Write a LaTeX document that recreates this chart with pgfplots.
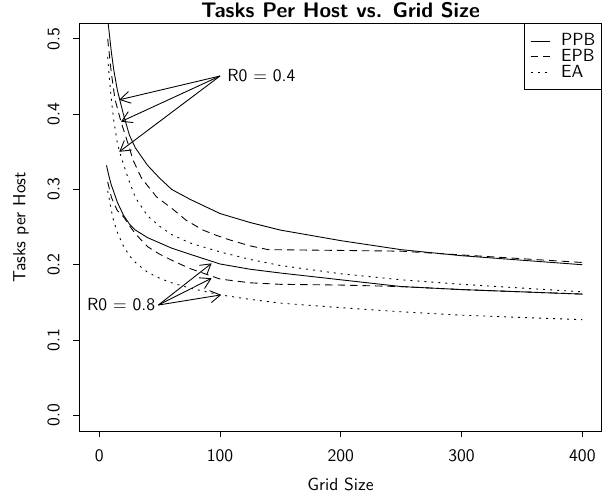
\documentclass[border=0pt]{standalone}
\usepackage{pgfplots}
\pgfplotsset{compat=1.18}
\usetikzlibrary{arrows.meta,calc}
\renewcommand{\familydefault}{\sfdefault}
\begin{document}
\begin{tikzpicture}
\begin{axis}[
  name=ax,
  scale only axis,
  width=10.448cm, height=8.154cm,
  xmin=-16.5, xmax=416,
  ymin=-0.0208, ymax=0.5206,
  xtick={0,100,200,300,400},
  ytick={0,0.1,0.2,0.3,0.4,0.5},
  /pgf/number format/assume math mode=true,
  y tick label style={/pgf/number format/fixed,/pgf/number format/fixed zerofill,/pgf/number format/precision=1},
  yticklabel style={rotate=90, anchor=south, inner sep=0pt},
  xticklabel style={anchor=north, inner sep=0pt},
  xticklabel shift=0.24cm,
  yticklabel shift=0.266cm,
  tick align=outside, tick pos=left,
  major tick length=0.12cm,
  tick style={black, line width=0.5pt},
  axis line style={black, line width=0.5pt},
  xlabel={Grid Size},
  xlabel style={at={(axis description cs:0.5,-0.130)}, anchor=center},
  ylabel={Tasks per Host},
  every axis y label/.style={at={(axis description cs:-0.1116,0.5)}, rotate=90, anchor=center},
  legend style={at={(rel axis cs:1,1)}, anchor=north east, draw=black, line width=0.5pt,
    inner xsep=0.12cm, inner ysep=0.2cm, row sep=0.4pt, column sep=0.22cm,
    nodes={inner sep=0pt}},
  legend cell align=left,
  legend image code/.code={\draw[#1] (0cm,0cm) -- (0.38cm,0cm);},
  every axis plot/.append style={black, line width=0.5pt},
]
% R0 = 0.4
\addplot[solid] coordinates {
  (6,0.541) (8,0.512) (10,0.483) (12,0.459) (15,0.432) (17,0.419) (20,0.400)
  (25,0.372) (30,0.355) (40,0.332) (50,0.315) (60,0.300) (75,0.287) (100,0.268)
  (125,0.256) (150,0.246) (200,0.232) (250,0.220) (300,0.212) (350,0.206) (400,0.200)
};
\addlegendentry{PPB}
\addplot[dash pattern=on 0.15cm off 0.1cm] coordinates {
  (7,0.500) (10,0.455) (13,0.420) (18,0.390) (25,0.355) (28,0.339) (35,0.315)
  (47.5,0.290) (60,0.275) (72,0.259) (86,0.246) (97,0.239) (108,0.233) (125,0.225)
  (140,0.220) (200,0.219) (250,0.218) (300,0.213) (350,0.208) (400,0.203)
};
\addlegendentry{EPB}
\addplot[dash pattern=on 0.04cm off 0.1cm] coordinates {
  (7,0.476) (8,0.455) (10,0.420) (12,0.392) (15,0.362) (17,0.349) (20,0.334)
  (25,0.310) (30,0.289) (40,0.265) (50,0.251) (60,0.240) (75,0.229) (100,0.217)
  (125,0.207) (150,0.199) (200,0.188) (250,0.180) (300,0.174) (350,0.169) (400,0.164)
};
\addlegendentry{EA}
% R0 = 0.8
\addplot[forget plot, solid] coordinates {
  (6,0.332) (8,0.318) (10,0.306) (12,0.297) (15,0.283) (20,0.266) (25,0.254)
  (30,0.246) (40,0.236) (50,0.229) (60,0.222) (75,0.214) (100,0.201) (125,0.194)
  (150,0.189) (200,0.180) (250,0.171) (300,0.167) (350,0.164) (400,0.161)
};
\addplot[forget plot, dash pattern=on 0.15cm off 0.1cm] coordinates {
  (7,0.310) (10,0.290) (12,0.282) (15,0.272) (20,0.264) (25,0.252) (30,0.241)
  (40,0.224) (50,0.214) (60,0.206) (75,0.195) (100,0.181) (125,0.176) (150,0.174)
  (200,0.173) (250,0.171) (300,0.167) (350,0.164) (400,0.161)
};
\addplot[forget plot, dash pattern=on 0.04cm off 0.1cm] coordinates {
  (7,0.298) (8,0.290) (10,0.272) (12,0.258) (15,0.243) (20,0.225) (25,0.212)
  (30,0.203) (40,0.190) (50,0.182) (60,0.176) (75,0.169) (100,0.160) (125,0.154)
  (150,0.149) (200,0.143) (250,0.1375) (300,0.133) (350,0.130) (400,0.127)
};
% annotations
\draw[-{Straight Barb[length=0.2cm,width=0.24cm]}, line width=0.5pt] (axis cs:100,0.4506) -- (axis cs:16.6,0.419);
\draw[-{Straight Barb[length=0.2cm,width=0.24cm]}, line width=0.5pt] (axis cs:100,0.4506) -- (axis cs:18,0.390);
\draw[-{Straight Barb[length=0.2cm,width=0.24cm]}, line width=0.5pt] (axis cs:100,0.4506) -- (axis cs:16.6,0.350);
\node[anchor=west, inner sep=0.14cm] at (axis cs:100,0.4506) {R0 = 0.4};
\draw[-{Straight Barb[length=0.2cm,width=0.24cm]}, line width=0.5pt] (axis cs:49,0.1465) -- (axis cs:93,0.2018);
\draw[-{Straight Barb[length=0.2cm,width=0.24cm]}, line width=0.5pt] (axis cs:49,0.1465) -- (axis cs:93,0.182);
\draw[-{Straight Barb[length=0.2cm,width=0.24cm]}, line width=0.5pt] (axis cs:49,0.1465) -- (axis cs:101,0.160);
\node[anchor=east, inner sep=0.06cm] at (axis cs:49,0.1465) {R0 = 0.8};
\end{axis}
\node[font=\large\bfseries, inner sep=0pt] at ($(ax.north)+(0,0.266cm)$) {Tasks Per Host vs. Grid Size};
\path ($(ax.south west)+(-1.586cm,-1.32cm)$) rectangle ($(ax.north east)+(0.166cm,0.466cm)$);
\end{tikzpicture}
\end{document}
